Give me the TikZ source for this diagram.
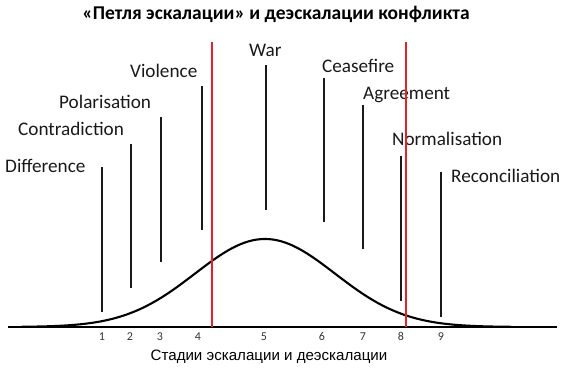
\documentclass[tikz,border=0pt]{standalone}
\usepackage{fontspec}
\setmainfont{Carlito}
\newfontfamily\capfont{Liberation Sans}
\definecolor{borderred}{HTML}{E8202A}

\begin{document}
\begin{tikzpicture}[
    x=1pt, y=1pt,
    stage/.style={anchor=base west,inner sep=0pt,text=black!90,font=\fontsize{19.2}{21}\selectfont},
    num/.style={anchor=base,inner sep=0pt,text=black!80,font=\fontsize{12}{13}\selectfont},
    marker/.style={line width=1.7pt,black!90},
    border/.style={line width=2.8pt,borderred}
]
\useasboundingbox (0,0) rectangle (566,371);

% title and caption
\node[anchor=base,inner sep=0pt,font=\fontsize{19.5}{21}\selectfont\bfseries] (title) at (276,351)
    {«Петля эскалации» и деэскалации конфликта};
\node[inner sep=0pt,font=\capfont\fontsize{15.1}{17}\selectfont] (caption) at (269,14)
    {Стадии эскалации и деэскалации};

% axis and curve
\draw[line width=1.2pt] (8,44) -- (557,44);
\draw[line width=2.1pt,line cap=round,smooth,samples=120,domain=22:512]
    plot (\x,{44+88*exp(-0.5*((\x-265)/70)^2)});

% stage markers
\foreach \x/\top/\bot [count=\i] in {102/204/59, 131/227/83, 161/254/109, 202/285/141,
        266/306/161, 324/293/149, 363/266/122, 401/215/70, 441/199/54} {
    \draw[marker] (\x,\bot) -- (\x,\top);
}

% stage numbers
\foreach \x [count=\i] in {102,130,160,198,264,322,363,401,441}
    \node[num] (n\i) at (\x,30.5) {\i};

% stage names
\node[stage] (difference) at (5,198) {Difference};
\node[stage] (contradiction) at (18,235) {Contradiction};
\node[stage] (polarisation) at (59,262) {Polarisation};
\node[stage] (violence) at (130,293) {Violence};
\node[stage] (war) at (249,314) {War};
\node[stage] (ceasefire) at (322,298) {Ceasefire};
\node[stage] (agreement) at (363,271) {Agreement};
\node[stage] (normalisation) at (392,225) {Normalisation};
\node[stage] (reconciliation) at (451,188) {Reconciliation};

% escalation / de-escalation borders
\draw[border] (212,44) -- (212,329);
\draw[border] (406,44) -- (406,329);
\end{tikzpicture}
\end{document}
